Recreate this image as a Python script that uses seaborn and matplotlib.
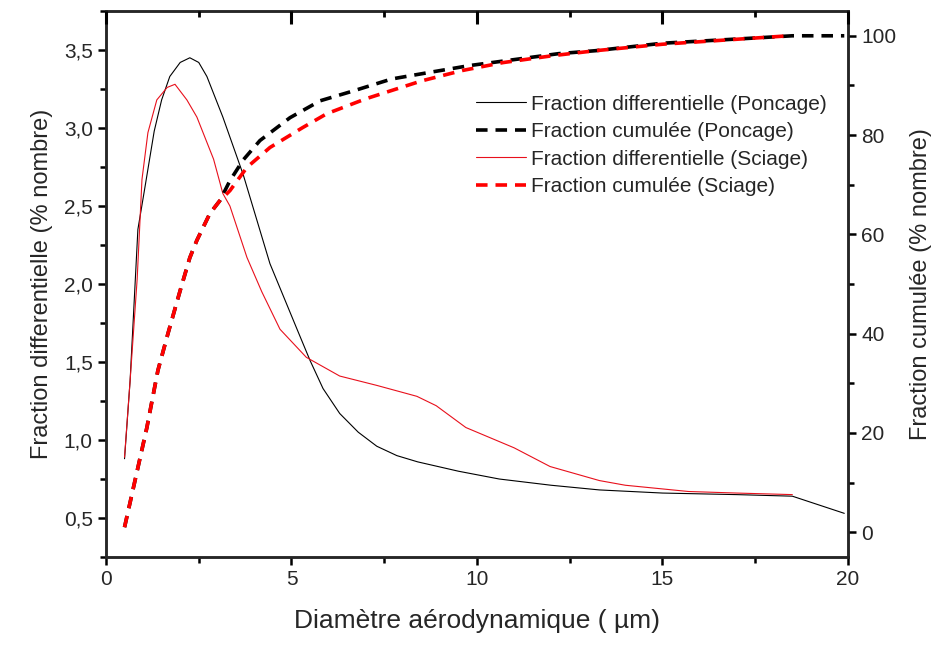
import numpy as np
import pandas as pd
import matplotlib
matplotlib.use("Agg")
import matplotlib.pyplot as plt
from matplotlib.ticker import MultipleLocator, FuncFormatter
import seaborn as sns

# differential fraction (% nombre) - left axis
x_diff_ponc = [0.5, 0.65, 0.86, 1.05, 1.3, 1.5, 1.72, 2.0, 2.26, 2.5, 2.72, 3.15, 3.7,
               4.42, 5.15, 5.5, 5.85, 6.3, 6.8, 7.3, 7.84, 8.4, 9.5, 10.6, 12, 13.3,
               15, 17, 18.5, 19.9]
y_diff_ponc = [0.88, 1.38, 2.35, 2.62, 2.98, 3.18, 3.33, 3.42, 3.45, 3.42, 3.33, 3.07, 2.7,
               2.13, 1.71, 1.51, 1.33, 1.17, 1.05, 0.96, 0.9, 0.86, 0.8, 0.75, 0.71, 0.68,
               0.66, 0.65, 0.64, 0.53]

x_diff_sci = [0.5, 0.65, 0.84, 0.97, 1.13, 1.37, 1.65, 1.86, 2.18, 2.45, 2.9, 3.15, 3.34,
              3.8, 4.2, 4.69, 5.4, 6.3, 7.3, 8.38, 8.9, 9.7, 11, 11.97, 13.3, 14, 15.7, 17, 18.5]
y_diff_sci = [0.89, 1.38, 2.03, 2.67, 2.97, 3.18, 3.26, 3.28, 3.18, 3.07, 2.8, 2.58, 2.5,
              2.17, 1.95, 1.71, 1.53, 1.41, 1.35, 1.28, 1.22, 1.08, 0.95, 0.83, 0.74, 0.71,
              0.67, 0.66, 0.65]

# cumulative fraction (% nombre) - right axis
x_cum_ponc = [0.5, 0.86, 1.1, 1.4, 1.67, 2.0, 2.26, 2.45, 2.8, 3.07, 3.34, 3.7, 4.15, 4.96,
              5.77, 6.67, 7.7, 8.7, 9.8, 10.8, 12.2, 13.2, 15, 17.6, 18.5, 19.9]
y_cum_ponc = [1.0, 13, 21, 32.6, 40, 48.7, 55.3, 58.8, 64.2, 66.8, 70.8, 75, 78.9, 83.5,
              86.9, 88.9, 91.3, 92.6, 94, 95, 96.4, 97, 98.5, 99.6, 100, 100]

x_cum_sci = [0.5, 0.86, 1.1, 1.4, 1.67, 2.0, 2.26, 2.45, 2.8, 3.07, 3.34, 3.8, 4.42, 5.3,
             5.95, 7.0, 8.5, 9.6, 10.7, 12.05, 13.2, 15, 17.6, 18.4]
y_cum_sci = [1.0, 13, 21, 32.6, 40, 48.7, 55.3, 58.8, 64.2, 66.8, 68.8, 73.5, 77.5, 81.5,
             84.3, 87.3, 90.9, 93, 94.6, 96, 97, 98.3, 99.6, 100]

labels = ["Fraction differentielle (Poncage)", "Fraction cumulée (Poncage)",
          "Fraction differentielle (Sciage)", "Fraction cumulée (Sciage)"]

sns.set_style("ticks")
plt.rcParams["font.family"] = ["Liberation Sans", "DejaVu Sans"]

rect = [0.1118, 0.1364, 0.7827, 0.8466]
fig = plt.figure(figsize=(9.48, 6.45), dpi=100)
ax = fig.add_axes(rect)
ax2 = ax.twinx()

sns.lineplot(x=x_diff_ponc, y=y_diff_ponc, ax=ax, color="black", lw=0.8, sort=False)
sns.lineplot(x=x_diff_sci, y=y_diff_sci, ax=ax, color="#e8101c", lw=0.8, sort=False)
sns.lineplot(x=x_cum_ponc, y=y_cum_ponc, ax=ax2, color="black", lw=2.6, sort=False)
sns.lineplot(x=x_cum_sci, y=y_cum_sci, ax=ax2, color="#ff0000", lw=2.6, sort=False)
for ln in ax2.lines:
    ln.set_dashes((3.2, 2.2))

ax.set_xlim(0, 20)
ax.set_ylim(0.25, 3.75)
ax2.set_ylim(-5, 105)

ax.xaxis.set_major_locator(MultipleLocator(5))
ax.xaxis.set_minor_locator(MultipleLocator(2.5))
ax.yaxis.set_major_locator(MultipleLocator(0.5))
ax.yaxis.set_minor_locator(MultipleLocator(0.25))
ax.yaxis.set_major_formatter(FuncFormatter(lambda v, p: f"{v:.1f}".replace(".", ",")))
ax2.yaxis.set_major_locator(MultipleLocator(20))
ax2.yaxis.set_minor_locator(MultipleLocator(10))

for a in (ax, ax2):
    for s in a.spines.values():
        s.set_linewidth(1.8)
        s.set_visible(True)

ax.tick_params(axis="both", which="major", direction="out", length=6, width=1.8,
               labelsize=15, top=False, color="black")
ax.tick_params(axis="both", which="minor", direction="out", length=4, width=1.8,
               top=False, color="black")
ax2.tick_params(axis="y", which="major", direction="out", length=6, width=1.8,
                labelsize=15, color="black")
ax2.tick_params(axis="y", which="minor", direction="out", length=4, width=1.8, color="black")

# inward ticks on the top edge, at the x locator positions
major_locs = [v for v in ax.xaxis.get_majorticklocs() if 0 <= v <= 20]
minor_locs = [v for v in ax.xaxis.get_minorticklocs() if 0 <= v <= 20]
ax2.vlines(major_locs, 1 - 0.024, 1, transform=ax2.get_xaxis_transform(),
           colors="black", lw=2.2, clip_on=False, zorder=10)
ax2.vlines(minor_locs, 1 - 0.011, 1, transform=ax2.get_xaxis_transform(),
           colors="black", lw=2.0, clip_on=False, zorder=10)

ax.set_xlabel("Diamètre aérodynamique ( µm)", fontsize=19, labelpad=14)
ax.set_ylabel("Fraction differentielle (% nombre)", fontsize=17, labelpad=8)
ax2.set_ylabel("Fraction cumulée (% nombre)", fontsize=17, labelpad=10)

handles = [ax.lines[0], ax2.lines[0], ax.lines[1], ax2.lines[1]]
ax2.legend(handles, labels, loc="upper left", bbox_to_anchor=(0.484, 0.866),
           frameon=False, fontsize=15, borderpad=0, handlelength=2.4,
           handletextpad=0.25, labelspacing=0.41)

fig.savefig("out.png", dpi=100)
